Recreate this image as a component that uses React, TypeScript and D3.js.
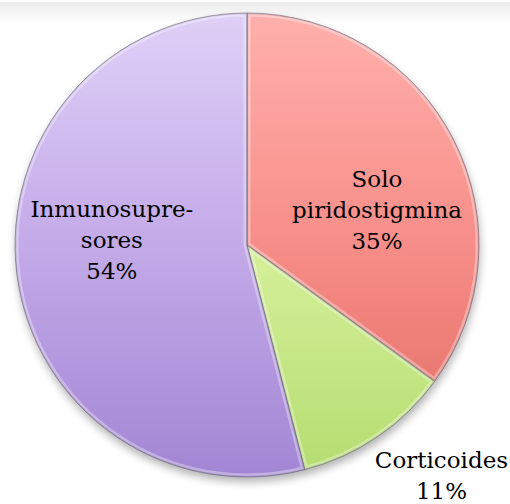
import React from 'react';
import * as d3 from 'd3';

const categories = ['Solo piridostigmina', 'Corticoides', 'Inmunosupresores'];
const labelLines = [['Solo', 'piridostigmina'], ['Corticoides'], ['Inmunosupre-', 'sores']];
const values = [35, 11, 54];

const W = 510, H = 504;
const cx = 247, cy = 245, R = 232;

// top / mid / bottom colours of each slice's vertical gradient
const gradTop = ['#ffb0ac', '#f0fbc0', '#dfd0f7'];
const gradMid = ['#f78d88', '#d6f09a', '#c3aae8'];
const gradBottom = ['#e06a63', '#b4dc70', '#a286d4'];

// label placement: radius factor + nudge (dx, dy) of the middle baseline
const labelRadius = [0.6, 1.1, 0.6];
const labelNudge = [[6, 36], [51, 27], [3, -14]];

const App = () => {
  const pie = d3.pie<number>().sort(null).value(d => d);
  const arcs = pie(values);
  const arc = d3.arc<d3.PieArcDatum<number>>().innerRadius(0).outerRadius(R);
  const lineH = 31;

  return (
    <svg width={W} height={H} style={{ position: 'absolute', left: 0, top: 0, display: 'block' }}>
      <defs>
        <linearGradient id="band" x1="0" y1="0" x2="0" y2="1">
          <stop offset="0" stopColor="#ececec" />
          <stop offset="1" stopColor="#ffffff" />
        </linearGradient>
        {arcs.map((a, i) => (
          <linearGradient key={i} id={'g' + i} gradientUnits="userSpaceOnUse" x1={0} y1={-R} x2={0} y2={R}>
            <stop offset="0" stopColor={gradTop[i]} />
            <stop offset="0.5" stopColor={gradMid[i]} />
            <stop offset="1" stopColor={gradBottom[i]} />
          </linearGradient>
        ))}
        {arcs.map((a, i) => (
          <clipPath key={i} id={'c' + i}>
            <path d={arc(a) || ''} />
          </clipPath>
        ))}
        <filter id="shadow" x="-20%" y="-20%" width="140%" height="140%">
          <feGaussianBlur stdDeviation="4" />
        </filter>
      </defs>
      <rect x={0} y={2} width={W} height={22} fill="url(#band)" />
      <g transform={`translate(${cx},${cy})`}>
        <circle cx={1} cy={5} r={R} fill="#000" opacity={0.3} filter="url(#shadow)" />
        {arcs.map((a, i) => (
          <g key={i}>
            <path d={arc(a) || ''} fill={`url(#g${i})`} />
            <g clipPath={`url(#c${i})`}>
              <path d={arc(a) || ''} fill="none"
                stroke="#ffffff" strokeOpacity={0.35} strokeWidth={7} strokeLinejoin="round" />
              <path d={arc(a) || ''} fill="none"
                stroke="#000" strokeOpacity={0.12} strokeWidth={2.5} strokeLinejoin="round" />
            </g>
            <path d={arc(a) || ''} fill="none"
              stroke="#4a4060" strokeOpacity={0.55} strokeWidth={0.8} />
          </g>
        ))}
      </g>
      {arcs.map((a, i) => {
        const lr = R * labelRadius[i];
        const la = d3.arc<d3.PieArcDatum<number>>().innerRadius(lr).outerRadius(lr);
        const [x, y] = la.centroid(a);
        const lines = [...labelLines[i], d3.format('.0f')(values[i]) + '%'];
        const x0 = cx + x + labelNudge[i][0];
        const yMid = cy + y + labelNudge[i][1];
        const y0 = yMid - ((lines.length - 1) / 2) * lineH;
        return (
          <text key={i} textAnchor="middle" fontFamily="DejaVu Serif" fontSize={23} fill="#000">
            {lines.map((l, j) => (
              <tspan key={j} x={x0} y={y0 + j * lineH}>{l}</tspan>
            ))}
          </text>
        );
      })}
    </svg>
  );
};

export default App;
